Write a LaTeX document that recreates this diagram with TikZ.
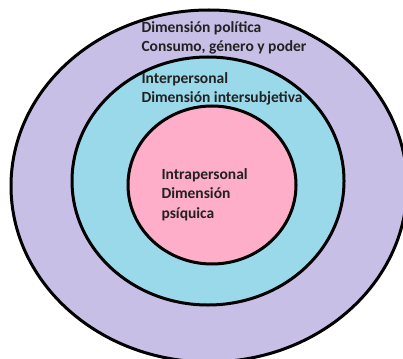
\documentclass[tikz,border=0pt]{standalone}
\usepackage{fontspec}
\setmainfont{Carlito}
\usetikzlibrary{shapes.geometric,positioning}
\definecolor{lavanda}{HTML}{C8BFE7}
\definecolor{turquesa}{HTML}{99D9EA}
\definecolor{rosa}{HTML}{FFAEC9}
\definecolor{tinta}{HTML}{222222}

\begin{document}
\begin{tikzpicture}[x=1pt, y=-1pt, line width=3pt]
   \path[use as bounding box, clip] (0,0) rectangle (403,358);
   % the three rings
   \begin{scope}[every node/.style={ellipse, draw=black, inner sep=0pt}]
    \node[fill=lavanda, minimum width=396pt, minimum height=352pt] (r1) at (209,186) {};
    \node[fill=turquesa, minimum width=272pt, minimum height=248pt] (r2) at (208,181) {};
    \node[fill=rosa, minimum width=168pt, minimum height=158pt] (r3) at (212,185) {};
   \end{scope}
   % labels (base = baseline of the last line)
   \begin{scope}[every node/.style={align=left, anchor=base west, inner sep=0pt, text=tinta,
       font=\bfseries\fontsize{15.5}{19.5}\selectfont}]
    \node (t1) at (140,52) {Dimensión política\\Consumo, género y poder};
    \node (t2) at (140,103) {Interpersonal\\Dimensión intersubjetiva};
    \node (t3) at (160,218) {Intrapersonal\\Dimensión\\psíquica};
   \end{scope}
\end{tikzpicture}
\end{document}
